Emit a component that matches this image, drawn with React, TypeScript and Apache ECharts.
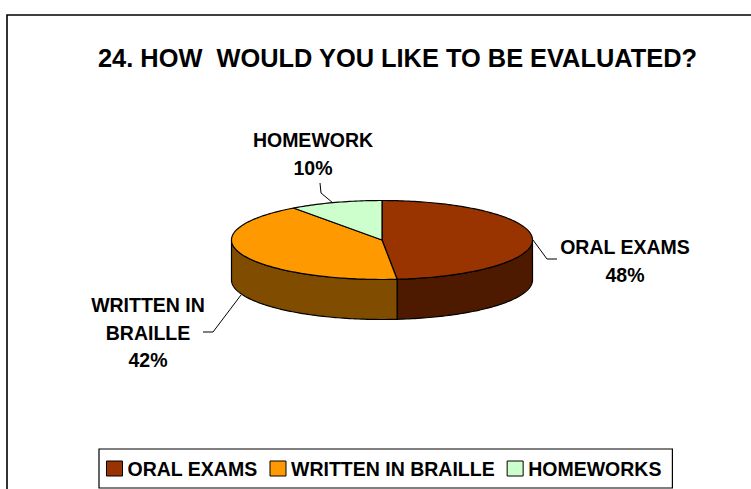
import React, { useEffect, useRef } from "react";
import * as echarts from "echarts";

const categories = ["ORAL EXAMS", "WRITTEN IN BRAILLE", "HOMEWORK"];
const legendNames = ["ORAL EXAMS", "WRITTEN IN BRAILLE", "HOMEWORKS"];
const values = [48.4, 41.6, 10];
const topColors = ["#993300", "#FF9900", "#CCFFCC"];
const sideColors = ["#4D1A00", "#804D00", "#668066"];
const labelLines = [["ORAL EXAMS"], ["WRITTEN IN", "BRAILLE"], ["HOMEWORK"]];
const labelAnchors = [[625, 247], [148, 305], [313, 140]];
const leaders = [
  [[533, 240], [547, 259], [557, 259]],
  [[241, 295], [213, 332], [203, 332]],
  [[333, 203], [321, 193], [320, 183]],
];

const CX = 382;
const CY = 240;
const RX = 150.5;
const RY = 39.5;
const DEPTH = 40;
const total = values.reduce((a, b) => a + b, 0);
const FONT = "'Liberation Sans', Arial, sans-serif";

const pt = (t: number, dy = 0) => [CX + RX * Math.sin(t), CY - RY * Math.cos(t) + dy];

function arcPoints(a: number, b: number, dy = 0) {
  const n = Math.max(2, Math.ceil(Math.abs(b - a) / 0.02));
  const out: number[][] = [];
  for (let i = 0; i <= n; i++) out.push(pt(a + ((b - a) * i) / n, dy));
  return out;
}

function makeRender(index: number) {
  return (_params: any, api: any) => {
    const before = values.slice(0, index).reduce((a, b) => a + b, 0);
    const a = (before / total) * Math.PI * 2;
    const b = a + (api.value(0) / total) * Math.PI * 2;
    const children: any[] = [];
    const line = { stroke: "#000", lineWidth: 1.2, lineJoin: "round" };
    const sA = Math.max(a, Math.PI / 2);
    const sB = Math.min(b, (Math.PI * 3) / 2);
    if (sB > sA) {
      const upper = arcPoints(sA, sB);
      const lower = arcPoints(sB, sA, DEPTH);
      children.push({
        type: "polygon",
        shape: { points: upper.concat(lower) },
        style: { fill: sideColors[index], ...line },
      });
    }
    children.push({
      type: "polygon",
      shape: { points: [[CX, CY], ...arcPoints(a, b)] },
      style: { fill: topColors[index], ...line },
    });
    children.push({
      type: "polyline",
      shape: { points: leaders[index] },
      style: { fill: "none", stroke: "#000", lineWidth: 1 },
    });
    const rows = [...labelLines[index], Math.round(api.value(0)) + "%"];
    rows.forEach((t, i) => {
      children.push({
        type: "text",
        style: {
          text: t,
          x: labelAnchors[index][0],
          y: labelAnchors[index][1] + i * 27.5,
          align: "center",
          verticalAlign: "middle",
          fill: "#000",
          font: `bold 19.5px ${FONT}`,
        },
      });
    });
    return { type: "group", children };
  };
}

export default function App() {
  const ref = useRef<HTMLDivElement>(null);
  useEffect(() => {
    const chart = echarts.init(ref.current!, null, { renderer: "svg" });
    chart.setOption({
      animation: false,
      backgroundColor: "#fff",
      title: {
        text: "24. HOW  WOULD YOU LIKE TO BE EVALUATED?",
        left: 392.5,
        top: 40,
        textAlign: "center",
        textStyle: { fontFamily: FONT, fontWeight: "bold", fontSize: 25.4, color: "#000" },
      },
      legend: {
        left: 99,
        top: 449,
        padding: [9.5, 11, 9.5, 7],
        orient: "horizontal",
        borderColor: "#000",
        borderWidth: 1.2,
        itemWidth: 16,
        itemHeight: 15,
        itemGap: 12,
        icon: "rect",
        textStyle: {
          fontFamily: FONT,
          fontWeight: "bold",
          fontSize: 19.5,
          color: "#000",
        },
        data: legendNames.map((name, i) => ({
          name,
          itemStyle: { color: topColors[i], borderColor: "#000", borderWidth: 1 },
        })),
      },
      graphic: [
        {
          type: "polyline",
          shape: { points: [[7, 489], [7, 15], [751, 15]] },
          style: { fill: "none", stroke: "#000", lineWidth: 1.6 },
        },
      ],
      series: categories.map((_, i) => ({
        type: "custom",
        name: legendNames[i],
        coordinateSystem: "none",
        itemStyle: { color: topColors[i] },
        data: [[values[i]]],
        renderItem: makeRender(i),
      })),
    });
    return () => chart.dispose();
  }, []);
  return (
    <div
      ref={ref}
      style={{ width: 751, height: 489, position: "fixed", left: 0, top: 0 }}
    />
  );
}
